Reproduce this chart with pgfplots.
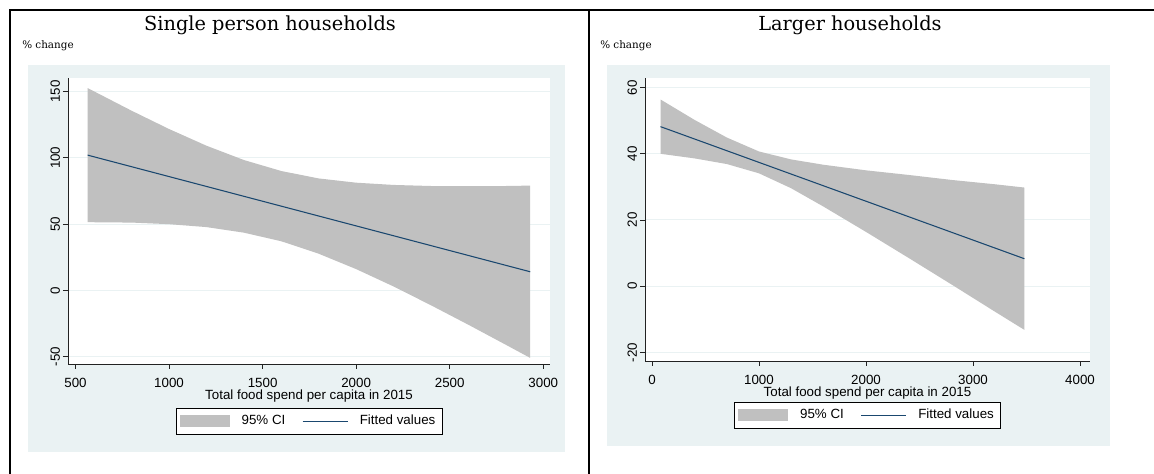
\documentclass[border=0pt]{standalone}
\usepackage{pgfplots}
\pgfplotsset{compat=1.18}
\usepackage{fontspec}
\setmainfont{Liberation Sans}
\newfontfamily\ser{DejaVu Serif}
\definecolor{bgc}{HTML}{EAF2F3}
\definecolor{bandc}{HTML}{C0C0C0}
\definecolor{navy}{HTML}{1A476F}
\definecolor{axc}{HTML}{222222}

\pgfplotsset{stata/.style={
  scale only axis,
  axis background/.style={fill=white},
  axis x line*=bottom, axis y line*=left,
  axis line style={-, axc, line width=0.6pt},
  tick align=outside, major tick length=3.75pt,
  tick style={axc, line width=0.6pt},
  ymajorgrids, grid style={bgc, line width=0.75pt},
  yticklabel style={rotate=90, anchor=south, font=\fontsize{10}{12}\selectfont, inner sep=2pt},
  xticklabel style={font=\fontsize{10}{12}\selectfont, inner sep=1.5pt, yshift=-5pt},
  /pgf/number format/assume math mode=true,
  /pgf/number format/1000 sep={},
  xlabel style={font=\fontsize{10}{11}\selectfont, inner sep=0pt, yshift=0pt},
  legend style={draw=black, line width=0.6pt, font=\fontsize{10}{12}\selectfont,
     inner xsep=3pt, inner ysep=3.2pt,
     /tikz/every odd column/.append style={column sep=6.75pt},
     /tikz/every even column/.append style={column sep=10.5pt}},
  legend columns=2, legend cell align=left,
}}

\begin{document}
\begin{tikzpicture}[x=0.75pt,y=0.75pt]
\useasboundingbox (0,0) rectangle (1154,474);
% backgrounds (Stata graph regions)
\fill[bgc] (28,409) rectangle (565,22);
\fill[bgc] (607,409) rectangle (1110,28);
% table borders
\draw[line width=1.6pt] (9,464) -- (1154,464);
\draw[line width=1.8pt] (10,464) -- (10,0);
\draw[line width=0.8pt] (589,464) -- (589,0);
% titles
\node[anchor=base, font=\ser\fontsize{14.5}{16}\selectfont, inner sep=0pt] at (270,443) {Single person households};
\node[anchor=base, font=\ser\fontsize{14.5}{16}\selectfont, inner sep=0pt] at (850,443) {Larger households};
\node[anchor=base west, font=\ser\fontsize{7.8}{10}\selectfont, inner sep=0pt] at (22,425) {\% change};
\node[anchor=base west, font=\ser\fontsize{7.8}{10}\selectfont, inner sep=0pt] at (600,425) {\% change};

\begin{axis}[stata,
  at={(51pt,82.5pt)}, anchor=south west,
  width=361.5pt, height=214.5pt,
  xmin=460, xmax=3036, ymin=-55.6, ymax=160.2,
  xtick={500,1000,1500,2000,2500,3000},
  ytick={-50,0,50,100,150},
  xlabel={Total food spend per capita in 2015},
  legend style={at={(0.5,-0.1538)}, anchor=north},
]
\addplot[fill=bandc, draw=none,
  legend image code/.code={\fill[bandc] (0pt,-4.5pt) rectangle (37.5pt,4.5pt);}]
  coordinates {(565,152.6) (800,135.5) (1000,121.7) (1200,109.1) (1400,98.3) (1600,90.0)
   (1800,84.4) (2000,81.2) (2200,79.5) (2400,78.7) (2600,78.6) (2800,78.7) (2930,79.0)
   (2930,-51.0) (2800,-41.1) (2600,-26.0) (2400,-11.3) (2200,2.9) (2000,16.0) (1800,27.6)
   (1600,37.0) (1400,43.5) (1200,47.7) (1000,49.9) (800,51.1) (565,51.4)} -- cycle;
\addlegendentry{95\% CI}
\addplot[navy, line width=0.8pt,
  legend image code/.code={\draw[navy,line width=0.8pt] (0pt,0pt) -- (33.75pt,0pt);}]
  coordinates {(565,102) (2930,14)};
\addlegendentry{Fitted values}
\end{axis}

\begin{axis}[stata,
  at={(483.75pt,84.75pt)}, anchor=south west,
  width=333.75pt, height=212.25pt,
  xmin=-65, xmax=4093, ymin=-22.6, ymax=62.9,
  xtick={0,1000,2000,3000,4000},
  ytick={-20,0,20,40,60},
  xlabel={Total food spend per capita in 2015},
  legend style={at={(0.5,-0.1449)}, anchor=north},
]
\addplot[fill=bandc, draw=none,
  legend image code/.code={\fill[bandc] (0pt,-4.5pt) rectangle (37.5pt,4.5pt);}]
  coordinates {(80,56.4) (400,50.2) (700,44.9) (1000,40.7) (1300,38.3) (1600,36.7)
   (2000,35.0) (2400,33.6) (2800,32.1) (3200,30.8) (3480,29.8)
   (3480,-13.2) (3200,-7.6) (2800,0.5) (2400,8.5) (2000,16.4) (1600,24.1) (1300,29.6)
   (1000,34.1) (700,36.9) (400,38.6) (80,40.0)} -- cycle;
\addlegendentry{95\% CI}
\addplot[navy, line width=0.8pt,
  legend image code/.code={\draw[navy,line width=0.8pt] (0pt,0pt) -- (33.75pt,0pt);}]
  coordinates {(80,48.2) (3480,8.3)};
\addlegendentry{Fitted values}
\end{axis}
\end{tikzpicture}
\end{document}
